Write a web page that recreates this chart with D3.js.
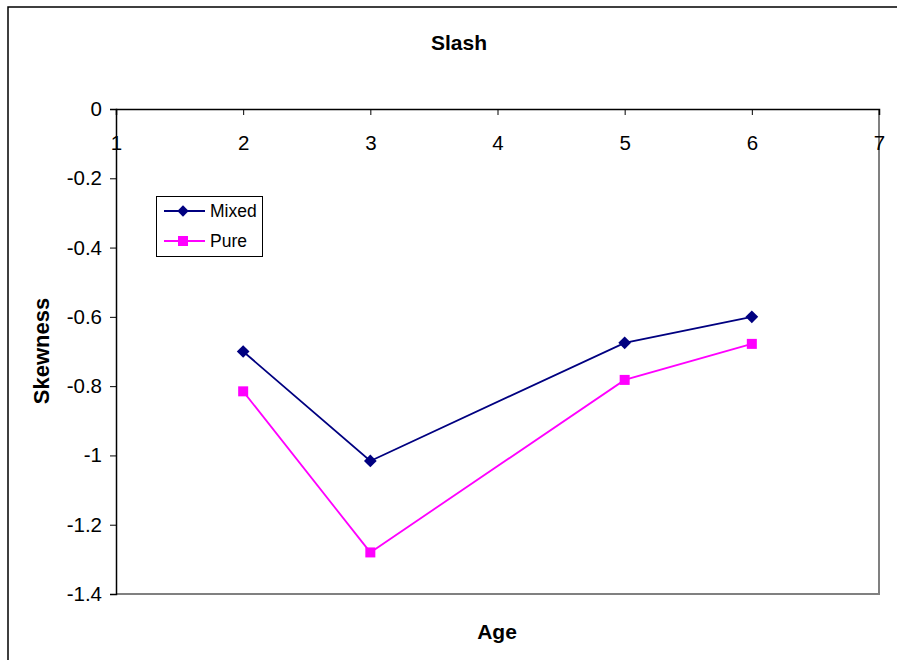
<!DOCTYPE html>
<html><head><meta charset="utf-8">
<script src="https://cdn.jsdelivr.net/npm/d3@7"></script>
<style>body{margin:0;background:#fff}svg{display:block;font-family:"Liberation Sans",Arial,sans-serif}</style>
</head><body>
<script>
const ages = [2, 3, 5, 6];
const mixed = [-0.70, -1.016, -0.675, -0.60];
const pure = [-0.815, -1.28, -0.782, -0.678];
const xTicks = [1, 2, 3, 4, 5, 6, 7];
const yTicks = [0, -0.2, -0.4, -0.6, -0.8, -1, -1.2, -1.4];
const seriesNames = ["Mixed", "Pure"];

const W = 897, H = 660;
const svg = d3.select("body").append("svg").attr("width", W).attr("height", H);
const L = 116, R = 879, T = 109, B = 594;
const x = d3.scaleLinear().domain([1, 7]).range([L, R]);
const y = d3.scaleLinear().domain([0, -1.4]).range([T, B]);

// outer border
svg.append("path").attr("d", `M8,${H}V7H${W}`).attr("fill", "none").attr("stroke", "#000").attr("stroke-width", 1.5);

// plot area right/bottom border
svg.append("path").attr("d", `M${L},${B}H${R}V${T}`).attr("fill", "none").attr("stroke", "#808080").attr("stroke-width", 2);

// y axis
const ya = svg.append("g").attr("transform", `translate(${L},0)`)
  .call(d3.axisLeft(y).tickValues(yTicks).tickSize(6).tickPadding(8).tickFormat(d => String(+d.toFixed(1))));
ya.select(".domain").attr("stroke", "#000").attr("stroke-width", 1.5);
ya.selectAll("text").attr("font-size", 20.5).attr("fill", "#000").attr("font-family", "Liberation Sans, Arial, sans-serif");

// x axis at y=0, ticks pointing down
const xa = svg.append("g").attr("transform", `translate(0,${y(0)})`)
  .call(d3.axisBottom(x).tickValues(xTicks).tickSize(6).tickPadding(20).tickFormat(d => String(d)));
xa.select(".domain").attr("stroke", "#000").attr("stroke-width", 1.5);
xa.selectAll("text").attr("font-size", 20.5).attr("fill", "#000").attr("font-family", "Liberation Sans, Arial, sans-serif");
xa.selectAll(".tick line").filter(d => d === 1 || d === 7).remove();

// title and labels
svg.append("text").attr("x", 459).attr("y", 50).attr("text-anchor", "middle")
  .attr("font-size", 21).attr("font-weight", "bold").text("Slash");
svg.append("text").attr("x", 497).attr("y", 639).attr("text-anchor", "middle")
  .attr("font-size", 21).attr("font-weight", "bold").text("Age");
svg.append("text").attr("transform", "translate(49,351) rotate(-90)").attr("text-anchor", "middle")
  .attr("font-size", 22).attr("font-weight", "bold").text("Skewness");

const line = d3.line().x((d, i) => x(ages[i])).y(d => y(d));
const colors = ["#000080", "#FF00FF"];

svg.append("path").datum(mixed).attr("d", line).attr("fill", "none").attr("stroke", colors[0]).attr("stroke-width", 1.8);
svg.append("path").datum(pure).attr("d", line).attr("fill", "none").attr("stroke", colors[1]).attr("stroke-width", 1.8);

svg.selectAll(".mk").data(mixed).enter().append("rect")
  .attr("x", -4.5).attr("y", -4.5).attr("width", 9).attr("height", 9)
  .attr("transform", (d, i) => `translate(${x(ages[i])},${y(d)}) rotate(45)`)
  .attr("fill", colors[0]);
svg.selectAll(".pk").data(pure).enter().append("rect")
  .attr("x", (d, i) => x(ages[i]) - 5).attr("y", d => y(d) - 5).attr("width", 10).attr("height", 10)
  .attr("fill", colors[1]);

// legend
const lg = svg.append("g");
lg.append("rect").attr("x", 156.5).attr("y", 196.5).attr("width", 106).attr("height", 60)
  .attr("fill", "#fff").attr("stroke", "#000").attr("stroke-width", 1);
seriesNames.forEach((n, i) => {
  const yy = 211 + i * 30;
  lg.append("line").attr("x1", 164).attr("x2", 205).attr("y1", yy).attr("y2", yy).attr("stroke", colors[i]).attr("stroke-width", 1.8);
  if (i === 0) {
    lg.append("rect").attr("x", -4).attr("y", -4).attr("width", 8).attr("height", 8)
      .attr("transform", `translate(183,${yy}) rotate(45)`).attr("fill", colors[0]);
  } else {
    lg.append("rect").attr("x", 178).attr("y", yy - 5).attr("width", 10).attr("height", 10).attr("fill", colors[1]);
  }
  lg.append("text").attr("x", 210).attr("y", yy + 6).attr("font-size", 17.5).text(n);
});
</script>
</body></html>
